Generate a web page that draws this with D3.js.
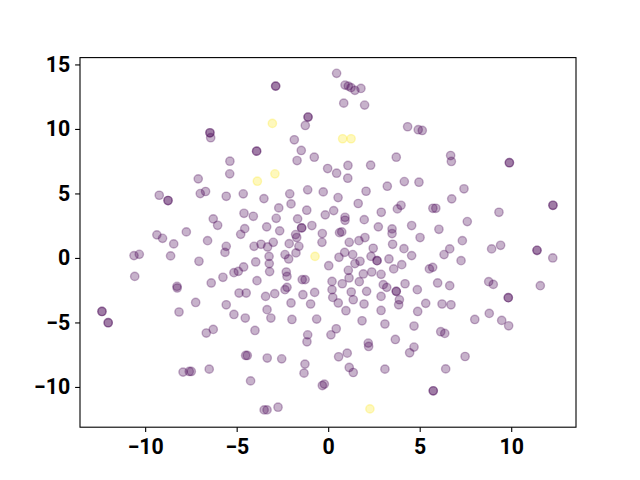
<!DOCTYPE html>
<html>
<head>
<meta charset="utf-8">
<script src="https://cdn.jsdelivr.net/npm/d3@7"></script>
<style>
  body { margin: 0; background: #fff; }
  svg text { font-family: Roboto, "DejaVu Sans", sans-serif; font-weight: bold; }
</style>
</head>
<body>
<div id="chart"></div>
<script>
// embedding coordinates (duplicates = darker dots)
const xs = [
  -6.46, -6.46, -6.42, -5.37, -5.38, -7.10, -9.23, -8.75, -8.75, -6.99, -6.70, -5.57, -4.64, -4.60, -6.28, -6.04, -7.75, -9.36, -9.05, -8.44, -6.59, -4.56, -4.78,
  0.46, -2.87, -2.87, 0.92, 1.10, 1.25, 1.46, 1.79, 0.85, 1.99, -1.10, -1.10, -1.25, -3.05, 0.79, 1.25, 4.34, 4.92, 5.14, -1.85, -1.47, -3.91, -3.91, -1.70, -0.76, -0.03, 0.46, 1.08, 1.07, 2.32, 3.72,
  -2.91, -3.87, 4.16, 3.23, 4.96, -3.51, -2.10, -1.12, -0.27, 0.54, 2.07, 1.64, -2.03, -2.70, -1.17, 0.30, -0.16, -4.09, -2.84, -1.67, 0.92, 0.92, 1.97, 2.90, 3.78, 3.98,
  -0.89, -1.45, -1.45, -2.65, -3.36, -1.78, -1.72, -0.32, 0.62, 0.74, 2.74, 3.49, 3.49, 4.56, 2.01, 1.68,
  6.69, 6.73, 9.90, 9.90, 7.42, 6.75, 5.72, 5.88, 12.28, 12.28, 9.33, 7.60, 6.05, 5.02, 7.33,
  4.56, 6.33, 6.64, 7.26, 8.93, 9.42, 11.41, 11.41, 12.27, 5.53, 5.71, 4.87, 5.98, 6.64, 8.77, 9.02, 11.59, 9.84, 9.84, 5.33, 6.22, 6.71, 4.89, 8.01, 8.80, 9.48, 9.86, 4.69, 6.15, 6.37, 4.69, 4.45, 7.48, 6.42, 5.74, 5.74,
  -4.05, -3.67, -3.31, -3.00, -2.13, -1.60, -0.34, 1.15, 2.46, 3.52, 4.14, -0.72, -3.23, -3.22, -3.96, -3.20, -2.36, -2.16, -1.76, 0.03, 0.59, 0.90, 1.34, 1.46, 1.74, 1.10, 1.92, 2.38, 2.34, 2.67, 2.67, 3.32, 4.02, 3.58, 2.89,
  4.20, 3.01, 3.20, 3.72, 3.72, 3.89, 3.85, 2.89, 2.10, 2.89, 3.10, 1.96, 1.85, 3.67, 2.19, 2.21, 1.70, 1.26, 1.37, 0.21, 0.21, 0.25, 0.77, 1.14, 0.55, 0.97, -0.74, -0.96, -0.63, -1.38, -2.03, -1.98,
  -2.29, -2.25, -1.42, -1.26, -2.36, -2.25, -2.92, -3.42, -3.89, -3.34, -3.13, -4.00, -1.12, -1.16, 0.15, 0.44, 0.57, 1.04, 1.15, 1.37, 3.10, -1.27, -1.32, -3.33, -2.54, -4.42, -4.24, -0.32, -0.21, -3.50, -3.34, -2.74, 2.28,
  -5.57, -5.64, -10.61, -10.32, -10.57, -8.61, -7.06, -8.26, -8.25, -7.24, -8.15, -12.36, -12.36, -12.02, -12.02, -6.39, -5.75, -5.15, -4.91, -4.62, -4.87, -4.48, -5.57, -5.15, -4.53, -6.66, -6.28, -4.51, -7.93, -7.59, -7.48, -6.50
];
const ys = [
  9.70, 9.70, 9.32, 7.50, 6.52, 6.13, 4.86, 4.45, 4.45, 4.99, 5.15, 4.78, 4.97, 3.46, 3.03, 2.53, 2.02, 1.79, 1.52, 1.09, 1.34, 2.27, 1.83,
  14.31, 13.32, 13.32, 13.40, 13.32, 13.20, 12.99, 13.14, 12.00, 11.85, 10.92, 10.92, 10.27, 10.43, 9.24, 9.24, 10.17, 9.94, 9.88, 9.16, 8.33, 8.28, 8.28, 7.55, 7.81, 6.93, 6.57, 7.17, 6.18, 7.19, 7.81,
  6.52, 5.95, 5.92, 5.56, 5.87, 4.60, 4.97, 5.28, 5.12, 4.68, 5.17, 4.22, 4.19, 3.88, 3.70, 3.67, 3.34, 3.23, 3.07, 3.03, 3.15, 2.92, 2.97, 3.54, 3.80, 4.08,
  2.51, 2.33, 2.33, 2.10, 2.41, 1.81, 1.58, 1.89, 1.96, 2.02, 2.41, 2.25, 1.89, 2.51, 1.58, 1.34,
  7.94, 7.48, 7.38, 7.38, 5.36, 4.58, 3.85, 3.85, 4.08, 4.08, 3.54, 2.82, 2.22, 1.58, 1.34,
  0.18, 0.26, 0.70, -0.21, 0.70, 0.98, 0.59, 0.59, 0.00, -0.85, -0.73, -2.46, -1.94, -2.15, -1.84, -2.05, -2.15, -3.08, -3.08, -3.52, -3.57, -3.63, -4.15, -4.77, -4.30, -4.84, -5.26, -5.28, -5.72, -5.85, -6.91, -7.35, -7.64, -8.60, -10.30, -10.30,
  0.90, 1.06, 0.85, 1.21, 1.11, 0.90, 1.21, 1.21, 0.75, 1.06, 0.72, 0.12, 0.12, -0.44, -0.31, -1.06, 0.26, -0.08, 0.39, -0.60, 0.05, 0.43, 0.26, -0.44, -0.26, -0.96, -1.24, -1.09, 0.12, -0.21, -0.21, -0.08, -0.52, -0.85, -1.27,
  -2.00, -2.07, -2.28, -2.59, -2.59, -3.24, -3.63, -2.98, -2.59, -4.07, -5.12, -3.57, -4.87, -6.32, -6.60, -6.86, -1.84, -2.64, -3.24, -1.82, -2.46, -3.06, -2.00, -1.55, -3.49, -4.09, -2.67, -3.57, -4.74, -2.85, -3.49, -4.77,
  -1.09, -1.43, -1.68, -1.68, -2.46, -2.28, -2.77, -2.98, -1.76, -4.01, -4.66, -5.62, -5.96, -6.50, -5.96, -5.49, -7.66, -7.38, -8.49, -8.88, -8.62, -8.23, -8.93, -7.76, -7.82, -7.56, -9.53, -9.89, -9.78, -11.78, -11.78, -11.57, -11.70,
  0.90, 0.43, 0.18, 0.28, -1.43, 0.16, -0.26, -2.20, -2.33, -3.45, -4.19, -4.15, -4.15, -5.02, -5.02, -1.94, -1.50, -1.14, -1.04, -0.70, -2.72, -2.72, -3.63, -4.38, -4.66, -5.82, -5.54, -7.56, -8.85, -8.80, -8.80, -8.62
];
// class of each point: 1 = yellow, 0 = purple
const yellowIdx = [36, 37, 38, 54, 55, 158, 246];
const labels = xs.map((d, i) => yellowIdx.includes(i) ? 1 : 0);

const xTicks = [-10, -5, 0, 5, 10];
const yTicks = [-10, -5, 0, 5, 10, 15];

const WIDTH = 640;
const HEIGHT = 480;
const margin = { top: 57.6, right: 64, bottom: 52.8, left: 80 };

const svg = d3.select("#chart").append("svg")
  .attr("width", WIDTH).attr("height", HEIGHT);

const x = d3.scaleLinear().domain([-13.56, 13.54]).range([margin.left, WIDTH - margin.right]);
const y = d3.scaleLinear().domain([-13.12, 15.53]).range([HEIGHT - margin.bottom, margin.top]);

const color = d3.scaleSequential(d3.interpolateViridis).domain([0, 1]);

// points
svg.append("g")
  .selectAll("circle")
  .data(xs.map((d, i) => ({ x: d, y: ys[i], c: labels[i] })))
  .enter()
  .append("circle")
  .attr("cx", d => x(d.x))
  .attr("cy", d => y(d.y))
  .attr("r", 4.17)
  .attr("fill", d => color(d.c))
  .attr("fill-opacity", 0.3)
  .attr("stroke", d => color(d.c))
  .attr("stroke-opacity", 0.3)
  .attr("stroke-width", 1.39);

// axes
const xAxis = svg.append("g")
  .attr("transform", `translate(0,${HEIGHT - margin.bottom})`)
  .call(d3.axisBottom(x).tickValues(xTicks).tickSizeOuter(0).tickSize(4.9).tickPadding(6.5));
const yAxis = svg.append("g")
  .attr("transform", `translate(${margin.left},0)`)
  .call(d3.axisLeft(y).tickValues(yTicks).tickSizeOuter(0).tickSize(4.9).tickPadding(5));

[xAxis, yAxis].forEach(g => {
  g.select(".domain").remove();
  g.selectAll(".tick line").attr("stroke", "#000").attr("stroke-width", 1.1);
  g.selectAll(".tick text").attr("fill", "#000").style("font-size", "21.3px");
});

// frame
svg.append("rect")
  .attr("x", margin.left).attr("y", margin.top)
  .attr("width", WIDTH - margin.left - margin.right)
  .attr("height", HEIGHT - margin.top - margin.bottom)
  .attr("fill", "none").attr("stroke", "#000").attr("stroke-width", 1.1);
</script>
</body>
</html>
